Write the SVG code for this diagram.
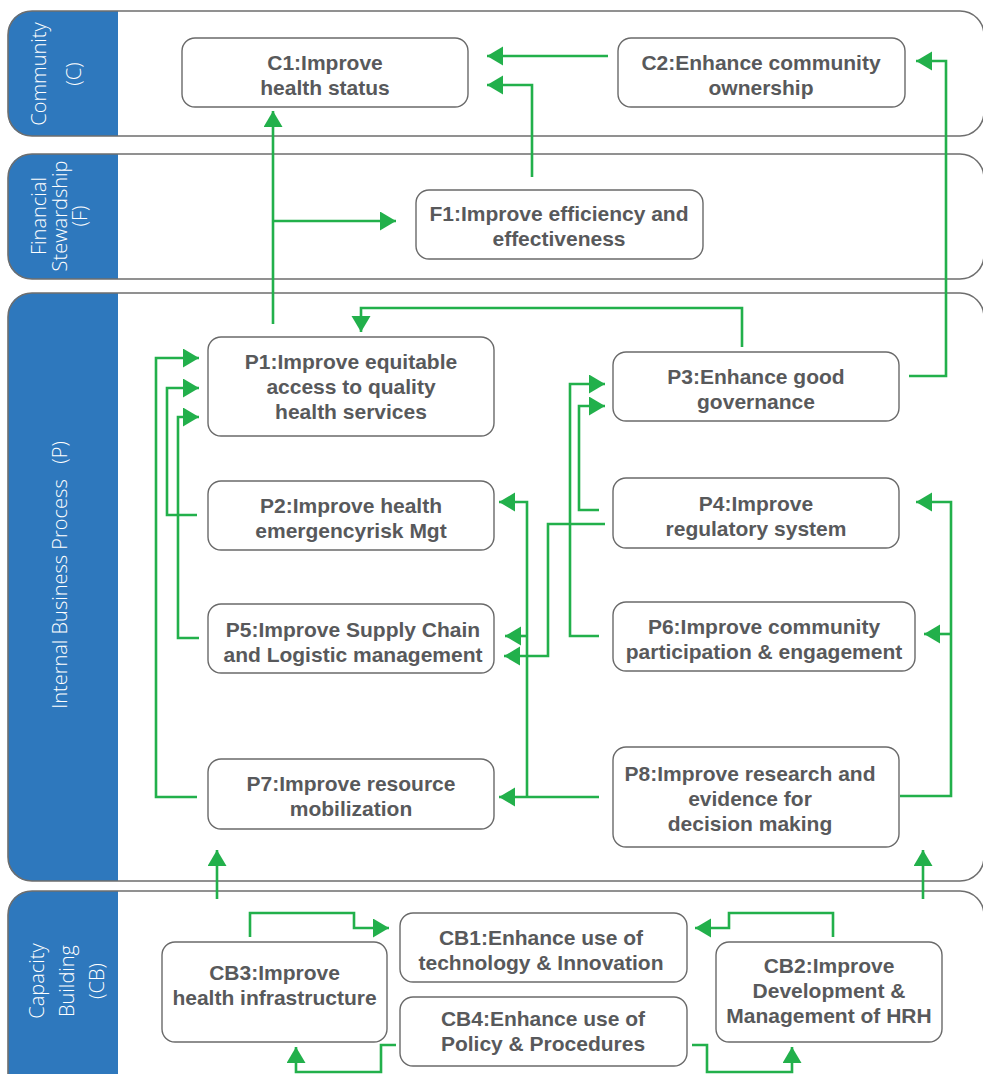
<svg xmlns="http://www.w3.org/2000/svg" width="983" height="1074" viewBox="0 0 983 1074">
<defs>
<style>
.lane{fill:none;stroke:#6e6e6e;stroke-width:1.6}
.band{fill:#2e78bd}
.lbl{font-family:"Open Sans","Liberation Sans",sans-serif;font-weight:300;font-size:20px;fill:#ffffff;text-anchor:middle}
.box{fill:#ffffff;stroke:#6a6a6a;stroke-width:1.4}
.t{font-family:"Liberation Sans",Arial,sans-serif;font-weight:bold;font-size:21px;fill:#58595b;text-anchor:middle}
.c{fill:none;stroke:#22b04b;stroke-width:2.6;marker-end:url(#ah)}
.cn{fill:none;stroke:#22b04b;stroke-width:2.6}
</style>
<marker id="ah" markerUnits="userSpaceOnUse" markerWidth="18" markerHeight="20" refX="16" refY="9.5" orient="auto">
<path d="M0,0 L16,9.5 L0,19 z" fill="#22b04b"/>
</marker>
</defs>
<rect width="983" height="1074" fill="#ffffff"/>

<g id="lanes">
<g id="lane-C">
<path class="band" d="M118,11 H30 A22,22 0 0 0 8,33 V114 A22,22 0 0 0 30,136 H118 Z"/>
<rect class="lane" x="8" y="11" width="976" height="125" rx="24"/>
<text class="lbl" transform="translate(0,74) rotate(-90)"><tspan x="0" y="46">Community</tspan><tspan x="0" y="81">(C)</tspan></text>
</g>
<g id="lane-F">
<path class="band" d="M118,154 H30 A22,22 0 0 0 8,176 V257 A22,22 0 0 0 30,279 H118 Z"/>
<rect class="lane" x="8" y="154" width="976" height="125" rx="24"/>
<text class="lbl" transform="translate(0,216) rotate(-90)"><tspan x="0" y="46">Financial</tspan><tspan x="0" y="67">Stewardship</tspan><tspan x="0" y="87">(F)</tspan></text>
</g>
<g id="lane-P">
<path class="band" d="M118,293 H30 A22,22 0 0 0 8,315 V859 A22,22 0 0 0 30,881 H118 Z"/>
<rect class="lane" x="8" y="293" width="976" height="588" rx="24"/>
<text class="lbl" transform="translate(0,575) rotate(-90)" x="0" y="67" xml:space="preserve">Internal Business Process   (P)</text>
</g>
<g id="lane-CB">
<path class="band" d="M118,891 H30 A22,22 0 0 0 8,913 V1100 H118 Z"/>
<rect class="lane" x="8" y="891" width="976" height="220" rx="24"/>
<text class="lbl" transform="translate(0,981) rotate(-90)"><tspan x="0" y="44">Capacity</tspan><tspan x="0" y="74">Building</tspan><tspan x="0" y="104">(CB)</tspan></text>
</g>
</g>

<g id="connectors">
<path class="c" d="M273,324 V111"/>
<path class="c" d="M273,221 H396"/>
<path class="c" d="M532,177 V85 H487"/>
<path class="c" d="M608,56 H487"/>
<path class="c" d="M909,376 H946 V61 H916"/>
<path class="c" d="M742,347 V308 H361 V332"/>
<path class="c" d="M197,515 H167 V388 H199"/>
<path class="c" d="M199,638 H178 V417 H199"/>
<path class="c" d="M197,797 H156 V358 H199"/>
<path class="c" d="M599,510 H579 V406 H605"/>
<path class="c" d="M599,636 H570 V384 H605"/>
<path class="c" d="M605,524 H548 V656 H504"/>
<path class="c" d="M599,797 H499"/>
<path class="c" d="M527,797 V502 H499"/>
<path class="c" d="M527,636 H505"/>
<path class="c" d="M900,796 H951 V502 H916"/>
<path class="c" d="M951,634 H924"/>
<path class="c" d="M217,899 V850"/>
<path class="c" d="M923,899 V850"/>
<path class="c" d="M250,937 V913 H354 V928 H389"/>
<path class="c" d="M833,937 V913 H729 V928 H695"/>
<path class="c" d="M396,1045 H381 V1072 H296 V1047"/>
<path class="c" d="M692,1045 H707 V1072 H792 V1047"/>
</g>

<g id="C1"><rect class="box" x="182" y="38" width="286" height="69" rx="13"/>
<text class="t"><tspan x="325" y="70">C1:Improve</tspan><tspan x="325" y="94.5">health status</tspan></text></g>
<g id="C2"><rect class="box" x="618" y="38" width="287" height="69" rx="13"/>
<text class="t"><tspan x="761" y="70">C2:Enhance community</tspan><tspan x="761" y="94.5">ownership</tspan></text></g>
<g id="F1"><rect class="box" x="416" y="190" width="287" height="69" rx="13"/>
<text class="t"><tspan x="559" y="221">F1:Improve efficiency and</tspan><tspan x="559" y="246">effectiveness</tspan></text></g>
<g id="P1"><rect class="box" x="208" y="337" width="286" height="99" rx="13"/>
<text class="t"><tspan x="351" y="369">P1:Improve equitable</tspan><tspan x="351" y="394">access to quality</tspan><tspan x="351" y="419">health services</tspan></text></g>
<g id="P2"><rect class="box" x="208" y="481" width="286" height="69" rx="13"/>
<text class="t"><tspan x="351" y="513">P2:Improve health</tspan><tspan x="351" y="538">emergencyrisk Mgt</tspan></text></g>
<g id="P5"><rect class="box" x="208" y="604" width="286" height="69" rx="13"/>
<text class="t"><tspan x="353" y="637">P5:Improve Supply Chain</tspan><tspan x="353" y="662">and Logistic management</tspan></text></g>
<g id="P7"><rect class="box" x="208" y="759" width="286" height="70" rx="13"/>
<text class="t"><tspan x="351" y="791">P7:Improve resource</tspan><tspan x="351" y="816">mobilization</tspan></text></g>
<g id="P3"><rect class="box" x="613" y="352" width="286" height="69" rx="13"/>
<text class="t"><tspan x="756" y="384">P3:Enhance good</tspan><tspan x="756" y="409">governance</tspan></text></g>
<g id="P4"><rect class="box" x="613" y="478" width="286" height="70" rx="13"/>
<text class="t"><tspan x="756" y="511">P4:Improve</tspan><tspan x="756" y="536">regulatory system</tspan></text></g>
<g id="P6"><rect class="box" x="613" y="602" width="302" height="69" rx="13"/>
<text class="t"><tspan x="764" y="634">P6:Improve community</tspan><tspan x="764" y="659">participation &amp; engagement</tspan></text></g>
<g id="P8"><rect class="box" x="613" y="747" width="286" height="100" rx="13"/>
<text class="t"><tspan x="750" y="781">P8:Improve research and</tspan><tspan x="750" y="806">evidence for</tspan><tspan x="750" y="831">decision making</tspan></text></g>
<g id="CB3"><rect class="box" x="162" y="942" width="225" height="100" rx="13"/>
<text class="t"><tspan x="274.5" y="980">CB3:Improve</tspan><tspan x="274.5" y="1005">health infrastructure</tspan></text></g>
<g id="CB1"><rect class="box" x="400" y="913" width="287" height="69" rx="13"/>
<text class="t"><tspan x="541" y="945">CB1:Enhance use of</tspan><tspan x="541" y="970">technology &amp; Innovation</tspan></text></g>
<g id="CB4"><rect class="box" x="400" y="997" width="287" height="69" rx="13"/>
<text class="t"><tspan x="543" y="1026">CB4:Enhance use of</tspan><tspan x="543" y="1051">Policy &amp; Procedures</tspan></text></g>
<g id="CB2"><rect class="box" x="716" y="942" width="226" height="100" rx="13"/>
<text class="t"><tspan x="829" y="973">CB2:Improve</tspan><tspan x="829" y="998">Development &amp;</tspan><tspan x="829" y="1023">Management of HRH</tspan></text></g>
</svg>
